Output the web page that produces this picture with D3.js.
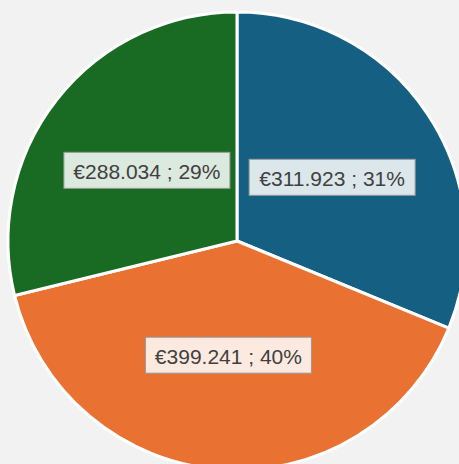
<!DOCTYPE html>
<html>
<head>
<meta charset="utf-8">
<script src="https://cdn.jsdelivr.net/npm/d3@7"></script>
<style>
    html, body { margin: 0; padding: 0; background: #f2f2f2; }
    svg { display: block; }
</style>
</head>
<body>
<div id="chart"></div>
<script>
const categories = ["A", "B", "C"];
const values = [311923, 399241, 288034];
const labels = ["€311.923 ; 31%", "€399.241 ; 40%", "€288.034 ; 29%"];
const colors = ["#156082", "#e97132", "#196b24"];

const width = 459, height = 464;
const cx = 237, cy = 241, radius = 229;

const svg = d3.select("#chart")
    .append("svg")
    .attr("width", width)
    .attr("height", height);

svg.append("rect")
    .attr("width", width)
    .attr("height", height)
    .attr("fill", "#f2f2f2");

const g = svg.append("g")
    .attr("transform", `translate(${cx},${cy})`);

const data = categories.map((c, i) => ({ name: c, value: values[i], label: labels[i], color: colors[i] }));

const pie = d3.pie()
    .sort(null)
    .value(d => d.value);

const arc = d3.arc()
    .innerRadius(0)
    .outerRadius(radius);

const arcs = pie(data);

// slices
g.selectAll("path.slice")
    .data(arcs)
    .join("path")
    .attr("class", "slice")
    .attr("d", arc)
    .attr("fill", d => d.data.color)
    .attr("stroke", "#ffffff")
    .attr("stroke-width", 3)
    .attr("stroke-linejoin", "round");

// data labels
const labelGroups = g.selectAll("g.label")
    .data(arcs)
    .join("g")
    .attr("class", "label")
    .attr("transform", d => `translate(${arc.centroid(d)})`);

labelGroups.append("rect")
    .attr("x", -83)
    .attr("y", -18)
    .attr("width", 166)
    .attr("height", 36)
    .attr("fill", "#ffffff")
    .attr("fill-opacity", 0.85)
    .attr("stroke", "#999999")
    .attr("stroke-width", 1);

labelGroups.append("text")
    .attr("text-anchor", "middle")
    .attr("dominant-baseline", "central")
    .attr("y", 1)
    .attr("font-family", "'Liberation Sans', Arial, sans-serif")
    .attr("font-size", 21)
    .attr("fill", "#404040")
    .text(d => d.data.label);
</script>
</body>
</html>
